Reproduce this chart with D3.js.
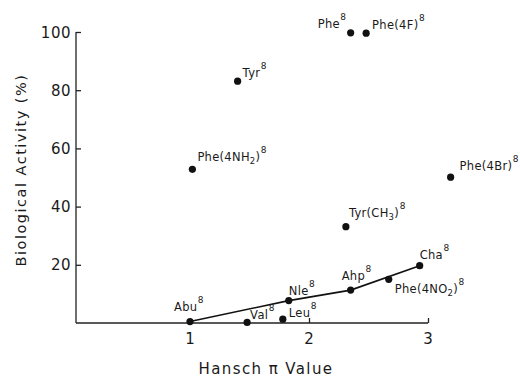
<!DOCTYPE html>
<html>
<head>
<meta charset="utf-8">
<script src="https://cdn.jsdelivr.net/npm/d3@7"></script>
<style>
  html, body { margin: 0; padding: 0; background: #fff; }
  svg { display: block; }
  text { font-family: "DejaVu Sans", sans-serif; fill: #1a1a1a; }
</style>
</head>
<body>
<svg id="chart" width="520" height="378"></svg>
<script>
// ---- data ----
const names    = ["Abu", "Val", "Leu", "Nle", "Ahp", "Phe(4NO2)", "Cha", "Tyr(CH3)", "Phe", "Phe(4F)", "Tyr", "Phe(4NH2)", "Phe(4Br)"];
const hansch   = [1.00, 1.48, 1.78, 1.83, 2.35, 2.67, 2.93, 2.31, 2.35, 2.48, 1.40, 1.02, 3.19];
const activity = [0.5, 0.2, 1.3, 7.7, 11.3, 15.0, 19.7, 33.1, 99.7, 99.6, 83.1, 52.8, 50.1];
const lineNames = ["Abu", "Nle", "Ahp", "Cha"];
const xTicks = [1, 2, 3];
const yTicks = [20, 40, 60, 80, 100];
const xTitle = "Hansch π Value";
const yTitle = "Biological Activity (%)";

// label layout (offset of text start / baseline from the dot)
const labelOffsets = {
  "Abu": [-16, -11], "Val": [3, -3], "Leu": [6, -2], "Nle": [0, -6], "Ahp": [-9, -10],
  "Phe(4NO2)": [6, 14], "Cha": [0, -7], "Tyr(CH3)": [3, -10], "Phe": [-33, -5],
  "Phe(4F)": [6, -4], "Tyr": [5, -4], "Phe(4NH2)": [5, -8], "Phe(4Br)": [9, -7]
};

const svg = d3.select("#chart");
const x = d3.scaleLinear().domain([1, 3]).range([190, 428]);
const y = d3.scaleLinear().domain([0, 100]).range([323, 32]);
const xLeft = x.invert(76);

const data = names.map((n, i) => ({ name: n, x: hansch[i], y: activity[i] }));

// axes
const yAxis = d3.axisRight(y).tickValues(yTicks).tickSize(5).tickFormat("");
const gy = svg.append("g").attr("transform", `translate(${x(xLeft)},0)`).call(yAxis);
gy.select(".domain").attr("d", `M0,${y(0)}V${y(100)}`);
gy.selectAll("line, path").attr("stroke", "#222").attr("stroke-width", 1.3);

const xAxis = d3.axisTop(x).tickValues(xTicks.slice(1)).tickSize(5).tickFormat("");
const gx = svg.append("g").attr("transform", `translate(0,${y(0)})`).call(xAxis);
gx.select(".domain").attr("d", `M${x(xLeft)},0H${x(3)}`);
gx.selectAll("line, path").attr("stroke", "#222").attr("stroke-width", 1.3);

// tick labels
svg.append("g").selectAll("text").data(yTicks).join("text")
  .attr("x", 71).attr("y", d => y(d) + 5.5)
  .attr("text-anchor", "end").style("font-size", "15px").style("letter-spacing", "0.5px")
  .text(d => d);
svg.append("g").selectAll("text").data(xTicks).join("text")
  .attr("x", d => x(d)).attr("y", 344)
  .attr("text-anchor", "middle").style("font-size", "15px")
  .text(d => d);

// axis titles
svg.append("text").attr("x", 266).attr("y", 374).attr("text-anchor", "middle")
  .style("font-size", "15px").style("letter-spacing", "1.4px").text(xTitle);
svg.append("text").attr("transform", "translate(26,170) rotate(-90)")
  .attr("text-anchor", "middle").style("font-size", "14.5px").style("letter-spacing", "1.5px")
  .text(yTitle);

// line through the aliphatic series
const lineData = lineNames.map(n => data.find(d => d.name === n));
svg.append("path").datum(lineData)
  .attr("d", d3.line().x(d => x(d.x)).y(d => y(d.y)))
  .attr("fill", "none").attr("stroke", "#111").attr("stroke-width", 1.6);

// dots
svg.append("g").selectAll("circle").data(data).join("circle")
  .attr("cx", d => x(d.x)).attr("cy", d => y(d.y)).attr("r", 3.6).attr("fill", "#111");

// labels with subscripts and superscript 8
const lab = svg.append("g").selectAll("text").data(data).join("text")
  .attr("x", d => x(d.x) + labelOffsets[d.name][0])
  .attr("y", d => y(d.y) + labelOffsets[d.name][1])
  .style("font-size", "11.5px").style("letter-spacing", "0.3px");
lab.each(function(d) {
  const t = d3.select(this);
  const m = d.name.match(/^(.*?)(\d)(\))$/);
  if (m && /[A-Z]\d\)$/.test(d.name)) {
    t.append("tspan").text(m[1]);
    t.append("tspan").attr("dy", 3).style("font-size", "8.5px").text(m[2]);
    t.append("tspan").attr("dy", -3).text(m[3]);
  } else {
    t.append("tspan").text(d.name);
  }
  t.append("tspan").attr("dx", 0.5).attr("dy", -8).style("font-size", "9px").text("8");
});
</script>
</body>
</html>
